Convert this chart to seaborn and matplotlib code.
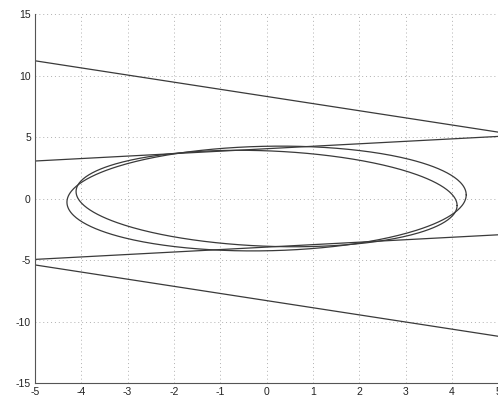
import numpy as np
import pandas as pd
import matplotlib
matplotlib.use("Agg")
import matplotlib.pyplot as plt
import seaborn as sns

# straight lines y = b + k*x, read at x=-5 and x=5
line_slope = [-0.58, 0.2, 0.2, -0.58]
line_icept = [8.3, 4.05, -3.95, -8.3]
x_range = [-5, 5]

# two ellipses centred at 0, given by their shape matrices M (x' M^-1 x <= 1)
ell_A = [[18.58, 1.29], [1.29, 18.15]]
ell_B = [[16.92, -2.33], [-2.33, 15.38]]

xticks = list(range(-5, 6))
yticks = [-15, -10, -5, 0, 5, 10, 15]

sns.set_style("white")
plt.rcParams['font.family'] = ['Liberation Sans', 'DejaVu Sans']
plt.rcParams['axes.unicode_minus'] = False

fig = plt.figure(figsize=(4.98, 3.98), dpi=100)
ax = fig.add_axes([0.0703, 0.0377, 0.93, 0.927])

col = "#3a3a3a"

# lines
for k, b in zip(line_slope, line_icept):
    df = pd.DataFrame({"x": x_range, "y": [b + k * xv for xv in x_range]})
    sns.lineplot(data=df, x="x", y="y", ax=ax, color=col, lw=0.9,
                 sort=False, estimator=None)

# ellipses
t = np.linspace(0, 2 * np.pi, 400)
circ = np.vstack([np.cos(t), np.sin(t)])
for M in (ell_A, ell_B):
    L = np.linalg.cholesky(np.array(M))
    pts = L @ circ
    df = pd.DataFrame({"x": pts[0], "y": pts[1]})
    sns.lineplot(data=df, x="x", y="y", ax=ax, color=col, lw=0.9,
                 sort=False, estimator=None)

ax.set_xlim(-5, 5)
ax.set_ylim(-15, 15)
ax.set_xticks(xticks)
ax.set_yticks(yticks)
ax.set_xlabel("")
ax.set_ylabel("")
ax.grid(True, color="#b0b0b0", lw=0.7, linestyle=(0, (1, 3)))
for s in ("top", "right"):
    ax.spines[s].set_visible(False)
for s in ("left", "bottom"):
    ax.spines[s].set_color("#555555")
    ax.spines[s].set_linewidth(0.8)
ax.tick_params(direction="in", length=3, width=0.8, color="#555555",
               labelsize=7.5, labelcolor="#222222", pad=3)

fig.savefig("out.png", dpi=100)
